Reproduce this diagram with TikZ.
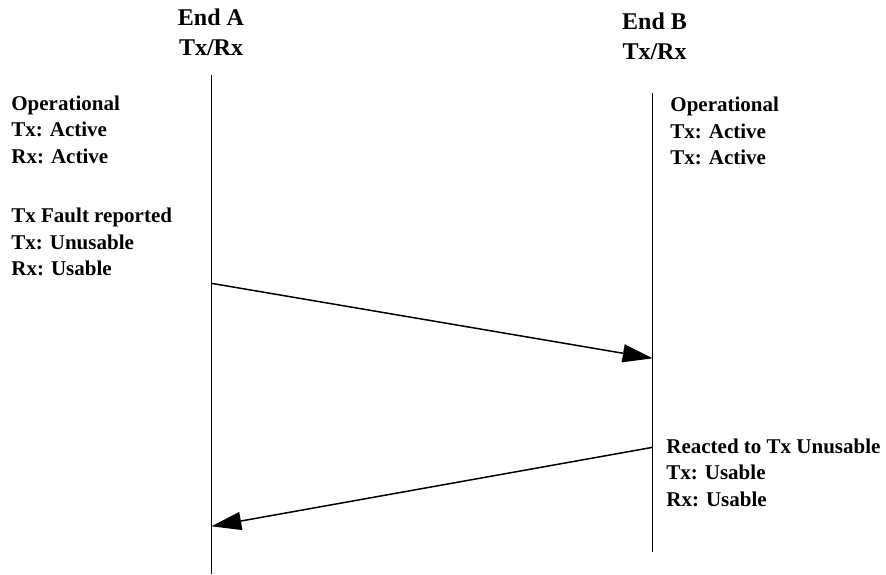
\documentclass[tikz,border=0pt]{standalone}
\usepackage{fontspec}
\setmainfont{Liberation Serif}
\usetikzlibrary{arrows.meta}

\begin{document}
\begin{tikzpicture}[x=0.5pt,y=-0.5pt,>={Triangle[length=15pt,width=9pt]},
    state/.style={anchor=base west,align=left,inner sep=0pt,
      font=\bfseries\fontsize{10.5}{13.25}\selectfont},
    head/.style={anchor=base,align=center,inner sep=0pt,
      font=\bfseries\fontsize{12}{15}\selectfont}]
  \useasboundingbox (0,0) rectangle (886,574);
  % lifelines
  \coordinate (Atop) at (211.3,75);
  \coordinate (Abot) at (211.3,574);
  \coordinate (Btop) at (652.7,93);
  \coordinate (Bbot) at (652.7,552);
  \draw[line width=0.75pt] (Atop) -- (Abot);
  \draw[line width=0.75pt] (Btop) -- (Bbot);
  % base anchor = last line
  \node[head] (endA) at (211,55) {End A\\Tx/Rx};
  \node[head] (endB) at (654.5,59.3) {End B\\Tx/Rx};
  % states
  \node[state] (opA) at (11,163) {Operational\\Tx: Active\\Rx: Active};
  \node[state] (faultA) at (11,275.7) {Tx Fault reported\\Tx: Unusable\\Rx: Usable};
  \node[state] (opB) at (670,164.7) {Operational\\Tx: Active\\Tx: Active};
  \node[state] (reactB) at (666,506.3) {Reacted to Tx Unusable\\Tx: Usable\\Rx: Usable};
  % messages
  \coordinate (m1s) at (211.3,283.3);
  \coordinate (m1e) at (652.7,358.3);
  \coordinate (m2s) at (652.7,447.3);
  \coordinate (m2e) at (211.3,526.3);
  \draw[line width=0.75pt,->] (m1s) -- (m1e);
  \draw[line width=0.75pt,->] (m2s) -- (m2e);
\end{tikzpicture}
\end{document}
